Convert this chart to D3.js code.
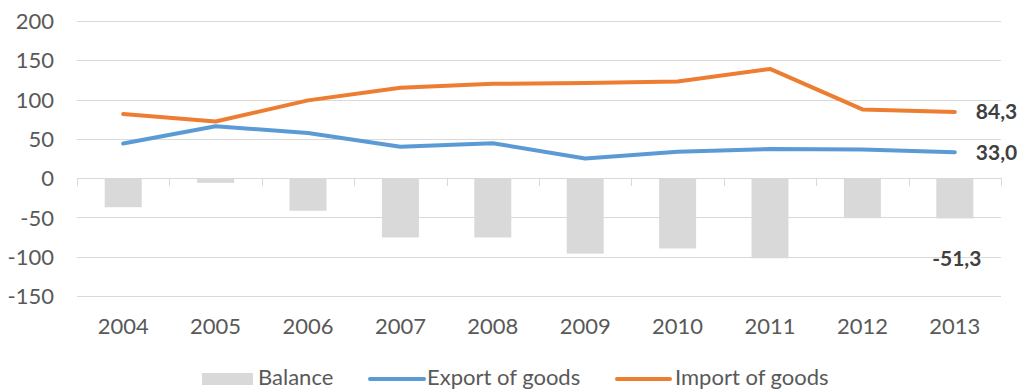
<!DOCTYPE html>
<html>
<head>
<meta charset="utf-8">
<script src="https://cdn.jsdelivr.net/npm/d3@7"></script>
<style>
  html, body { margin: 0; padding: 0; background: #fff; }
  svg { display: block; }
  text { font-family: "Lato", "Liberation Sans", sans-serif; }
</style>
</head>
<body>
<svg id="chart" width="1022" height="391"></svg>
<script>
// Foreign trade in goods, 2004–2013
const years = ["2004", "2005", "2006", "2007", "2008", "2009", "2010", "2011", "2012", "2013"];
const exportGoods = [44, 66, 57.5, 40, 44.5, 25, 33.5, 37, 36.5, 33.0];
const importGoods = [81.5, 72, 99, 115, 120, 121, 123, 139, 87.5, 84.3];
const balance = [-37, -6, -41.5, -75.5, -75.5, -96, -89.5, -102, -51, -51.3];
const yTicks = [-150, -100, -50, 0, 50, 100, 150, 200];
const legendLabels = ["Balance", "Export of goods", "Import of goods"];

const colors = { balance: "#D9D9D9", exp: "#5B9BD5", imp: "#ED7D31", grid: "#D9D9D9", axisText: "#595959", label: "#404040" };

const svg = d3.select("#chart");
// plain hyphen as minus sign, comma as decimal mark
const locale = d3.formatLocale({ decimal: ",", thousands: " ", grouping: [3], currency: ["", ""], minus: "-" });
const fmt = locale.format(".1f");
const fmtInt = locale.format("d");

const x = d3.scaleBand().domain(years).range([77, 1001]).paddingInner(0.6).paddingOuter(0.3);
const xc = d => x(d) + x.bandwidth() / 2;
const y = d3.scaleLinear().domain([-150, 200]).range([296, 21]);

// horizontal gridlines
svg.append("g")
  .selectAll("line").data(yTicks).join("line")
  .attr("x1", 77).attr("x2", 1001)
  .attr("y1", d => Math.round(y(d)) + 0.5).attr("y2", d => Math.round(y(d)) + 0.5)
  .attr("stroke", colors.grid).attr("stroke-width", 1);

// y axis labels
const yAxis = d3.axisLeft(y).tickValues(yTicks).tickSize(0).tickPadding(0).tickFormat(fmtInt);
const gy = svg.append("g").attr("transform", "translate(54,0)").call(yAxis);
gy.select(".domain").remove();
gy.selectAll("text").attr("fill", colors.axisText).style("font-size", "22px").attr("dy", "0.35em");

// balance bars
svg.append("g")
  .selectAll("rect").data(balance).join("rect")
  .attr("x", (d, i) => x(years[i]))
  .attr("width", x.bandwidth())
  .attr("y", d => y(Math.max(0, d)))
  .attr("height", d => Math.abs(y(d) - y(0)))
  .attr("fill", colors.balance);

// category axis along zero with boundary ticks
const boundaries = d3.range(years.length + 1).map(i => 77 + i * (924 / years.length));
svg.append("g")
  .selectAll("line").data(boundaries).join("line")
  .attr("x1", d => Math.round(d) + 0.5).attr("x2", d => Math.round(d) + 0.5)
  .attr("y1", Math.round(y(0))).attr("y2", Math.round(y(0)) + 8)
  .attr("stroke", colors.grid).attr("stroke-width", 1);

// x labels
const xAxis = d3.axisBottom(x).tickSize(0).tickPadding(0);
const gx = svg.append("g").attr("transform", "translate(0,334)").call(xAxis);
gx.select(".domain").remove();
gx.selectAll("text").attr("fill", colors.axisText).style("font-size", "22px").attr("dy", "0");

// lines
const line = d3.line().x((d, i) => xc(years[i])).y(d => y(d));
svg.append("path").datum(exportGoods).attr("d", line)
  .attr("fill", "none").attr("stroke", colors.exp).attr("stroke-width", 4).attr("stroke-linecap", "round").attr("stroke-linejoin", "round");
svg.append("path").datum(importGoods).attr("d", line)
  .attr("fill", "none").attr("stroke", colors.imp).attr("stroke-width", 4).attr("stroke-linecap", "round").attr("stroke-linejoin", "round");

// end value labels
const last = years.length - 1;
const lx = xc(years[last]);
svg.append("text").attr("x", lx + 21).attr("y", y(importGoods[last])).attr("dy", "0.35em")
  .attr("fill", colors.label).style("font-size", "21px").style("font-weight", "bold").text(fmt(importGoods[last]));
svg.append("text").attr("x", lx + 21).attr("y", y(exportGoods[last])).attr("dy", "0.35em")
  .attr("fill", colors.label).style("font-size", "21px").style("font-weight", "bold").text(fmt(exportGoods[last]));
svg.append("text").attr("x", lx + 2).attr("y", y(balance[last]) + 40).attr("dy", "0.35em").attr("text-anchor", "middle")
  .attr("fill", colors.label).style("font-size", "21px").style("font-weight", "bold").text(fmt(balance[last]));

// legend
const lg = svg.append("g").attr("transform", "translate(0,378)");
lg.append("rect").attr("x", 202).attr("y", -5).attr("width", 51).attr("height", 12).attr("fill", colors.balance);
lg.append("text").attr("x", 258).attr("y", 0).attr("dy", "0.3em").attr("fill", colors.axisText).style("font-size", "22px").text(legendLabels[0]);
lg.append("line").attr("x1", 370).attr("x2", 424).attr("y1", 1).attr("y2", 1).attr("stroke", colors.exp).attr("stroke-width", 4).attr("stroke-linecap", "round");
lg.append("text").attr("x", 427).attr("y", 0).attr("dy", "0.3em").attr("fill", colors.axisText).style("font-size", "22px").text(legendLabels[1]);
lg.append("line").attr("x1", 617).attr("x2", 670).attr("y1", 1).attr("y2", 1).attr("stroke", colors.imp).attr("stroke-width", 4).attr("stroke-linecap", "round");
lg.append("text").attr("x", 675).attr("y", 0).attr("dy", "0.3em").attr("fill", colors.axisText).style("font-size", "22px").text(legendLabels[2]);
</script>
</body>
</html>
